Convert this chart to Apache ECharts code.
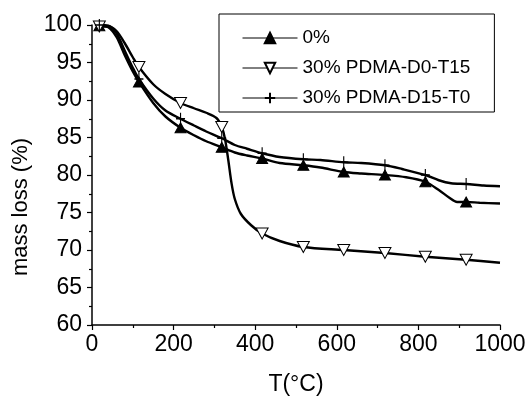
<!DOCTYPE html>
<html>
<head>
<meta charset="utf-8">
<script src="https://cdn.jsdelivr.net/npm/echarts@6/dist/echarts.min.js"></script>
<style>html,body{margin:0;padding:0;background:#fff;}#c{width:527px;height:396px;}</style>
</head>
<body>
<div id="c"></div>
<script>
// Series names
var names = ['0%', '30% PDMA-D0-T15', '30% PDMA-D15-T0'];
// Temperatures at which markers are drawn
var markerT = [18, 115, 217, 318, 417, 518, 617, 718, 817, 917];

// 0%
var t0 = [18, 40, 60, 80, 100, 115, 150, 180, 217, 250, 280, 318, 350, 380, 417, 460, 518, 560, 617, 660, 718, 770, 817, 850, 875, 895, 917, 950, 1000];
var m0 = [99.9, 99.7, 98.4, 96.0, 93.8, 92.4, 89.6, 87.8, 86.3, 85.3, 84.5, 83.7, 83.0, 82.6, 82.2, 81.6, 81.3, 81.0, 80.4, 80.2, 80.0, 79.7, 79.1, 78.0, 77.0, 76.4, 76.4, 76.3, 76.2];

// 30% PDMA-D0-T15
var t1 = [18, 40, 60, 80, 100, 115, 150, 180, 217, 250, 280, 305, 318, 326, 334, 342, 350, 365, 390, 417, 460, 518, 617, 718, 817, 917, 1000];
var m1 = [99.8, 99.8, 99.2, 97.6, 95.7, 94.4, 92.1, 90.8, 89.6, 88.9, 88.3, 87.6, 86.4, 84.8, 82.0, 78.9, 76.8, 74.8, 73.3, 72.2, 71.2, 70.4, 70.0, 69.6, 69.1, 68.7, 68.3];

// 30% PDMA-D15-T0
var t2 = [18, 40, 60, 80, 100, 115, 150, 180, 217, 250, 280, 318, 350, 380, 417, 460, 518, 560, 617, 660, 718, 760, 817, 850, 880, 917, 960, 1000];
var m2 = [100, 99.9, 98.9, 96.6, 94.3, 92.8, 90.2, 88.6, 87.5, 86.6, 85.8, 84.9, 84.0, 83.5, 82.9, 82.4, 82.1, 82.0, 81.7, 81.6, 81.3, 80.8, 80.0, 79.3, 78.9, 78.8, 78.6, 78.5];

// Axis ticks
var xTicks = [0, 200, 400, 600, 800, 1000];
var yTicks = [60, 65, 70, 75, 80, 85, 90, 95, 100];

function build(ts, ms) {
  return ts.map(function (t, i) {
    if (markerT.indexOf(t) >= 0) return [t, ms[i]];
    return { value: [t, ms[i]], symbol: 'none' };
  });
}

var font = '"Liberation Sans", Arial, sans-serif';
var chart = echarts.init(document.getElementById('c'), null, { renderer: 'canvas' });
var baseSeries = {
  type: 'line', smooth: 0.3, showSymbol: true, showAllSymbol: true,
  lineStyle: { color: '#000', width: 2.4 }, animation: false, z: 2
};
chart.setOption({
  animation: false,
  backgroundColor: '#fff',
  grid: { left: 92, right: 27, top: 25, bottom: 71, containLabel: false, outerBoundsMode: 'none' },
  legend: {
    left: 219, top: 14,
    orient: 'vertical',
    padding: [14, 24, 4, 23],
    itemWidth: 55, itemHeight: 13, itemGap: 10,
    borderColor: '#000', borderWidth: 1,
    lineStyle: { width: 1 },
    textStyle: { fontFamily: font, fontSize: 19, color: '#000', lineHeight: 20 },
    data: names
  },
  xAxis: {
    type: 'value', min: xTicks[0], max: xTicks[xTicks.length - 1], interval: 200,
    name: 'T(°C)', nameLocation: 'middle', nameGap: 48,
    nameTextStyle: { fontFamily: font, fontSize: 23, color: '#000' },
    axisLine: { lineStyle: { color: '#000', width: 1.5 } },
    axisTick: { length: 5, lineStyle: { color: '#000', width: 1.2 } },
    minorTick: { show: true, splitNumber: 2, length: 3, lineStyle: { color: '#000', width: 1.2 } },
    splitLine: { show: false },
    axisLabel: { fontFamily: font, fontSize: 23, color: '#000', margin: 8, formatter: function (v) { return String(v); } }
  },
  yAxis: {
    type: 'value', min: yTicks[0], max: yTicks[yTicks.length - 1], interval: 5,
    name: 'mass loss (%)', nameLocation: 'middle', nameGap: 60,
    nameTextStyle: { fontFamily: font, fontSize: 22, color: '#000', padding: [0, 64, 0, 0] },
    axisLine: { show: true, lineStyle: { color: '#000', width: 1.5 } },
    axisTick: { length: 5, lineStyle: { color: '#000', width: 1.2 } },
    minorTick: { show: true, splitNumber: 2, length: 3, lineStyle: { color: '#000', width: 1.2 } },
    splitLine: { show: false },
    axisLabel: { fontFamily: font, fontSize: 23, color: '#000', margin: 10, formatter: function (v) { return String(v); } }
  },
  series: [
    Object.assign({}, baseSeries, {
      name: names[0], data: build(t0, m0),
      symbol: 'triangle', symbolSize: [11, 10],
      itemStyle: { color: '#000', borderColor: '#000', borderWidth: 1 }
    }),
    Object.assign({}, baseSeries, {
      name: names[1], data: build(t1, m1),
      symbol: 'triangle', symbolSize: [12, 11], symbolRotate: 180,
      itemStyle: { color: '#fff', borderColor: '#000', borderWidth: 1 }
    }),
    Object.assign({}, baseSeries, {
      name: names[2], data: build(t2, m2),
      symbol: 'path://M5,0L5,12M0,6L10,6', symbolSize: [9, 12],
      itemStyle: { color: 'none', borderColor: '#000', borderWidth: 1.3 }
    })
  ]
});
</script>
</body>
</html>
